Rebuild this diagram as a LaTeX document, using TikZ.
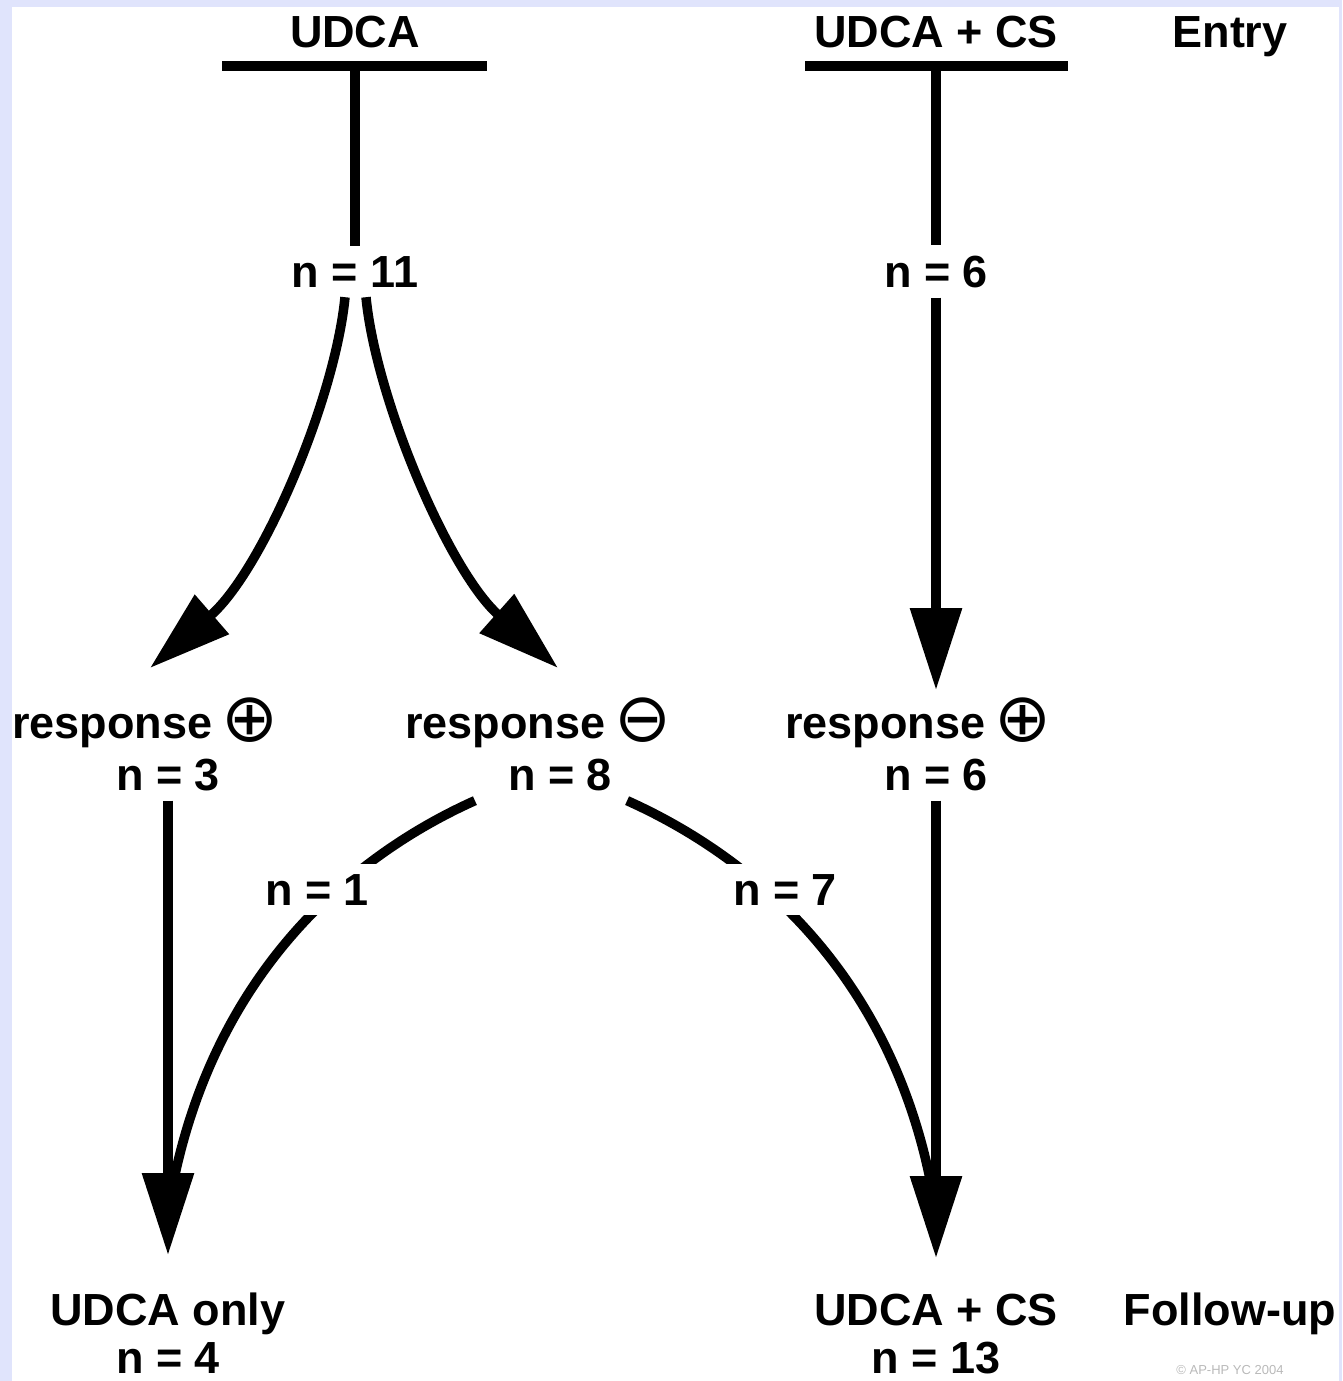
\documentclass[tikz,border=0pt]{standalone}
\usepackage{fontspec}
\setmainfont{Liberation Sans}
\newfontfamily\dejavu{DejaVu Sans}
\usetikzlibrary{arrows.meta}
\definecolor{lav}{RGB}{224,228,252}
\newcommand\circsym[1]{{\dejavu\mdseries\fontsize{68}{68}\selectfont\raisebox{-3pt}{#1}}}
\begin{document}
\begin{tikzpicture}[x=1pt,y=-1pt,
  lbl/.style={font=\fontsize{45}{54}\selectfont\bfseries, inner sep=0pt, anchor=base},
  nlbl/.style={lbl, inner ysep=10pt},
  cl/.style={lbl, inner ysep=10pt, inner xsep=15pt, fill=white},
  ln/.style={line width=9.5pt},
  arr/.style={ln, -{Triangle[length=82pt,width=50pt]}},
]
\useasboundingbox (0,0) rectangle (1342,1381);
\fill[lav] (0,0) rectangle (1342,7);
\fill[lav] (0,0) rectangle (12,1381);
\fill[lav] (1339,0) rectangle (1342,1381);

% top labels
\node[lbl] (udca) at (355,48) {UDCA};
\node[lbl] (udcacs) at (936,48) {UDCA + CS};
\node[lbl] (entry) at (1230,48) {Entry};

% bars
\coordinate (bar1) at (355,66);
\coordinate (bar2) at (936,66);
\draw[ln] (222,66) -- (487,66);
\draw[ln] (805,66) -- (1068,66);

% n labels
\node[nlbl] (n11) at (355,287) {n = 11};
\node[nlbl] (n6a) at (936,287) {n = 6};

% responses
\node[lbl, anchor=base west] (r1) at (12,738) {response\hspace{9pt}\circsym{⊕}};
\node[lbl, anchor=base west] (r2) at (405,738) {response\hspace{9pt}\circsym{⊖}};
\node[lbl, anchor=base west] (r3) at (785,738) {response\hspace{9pt}\circsym{⊕}};
\node[nlbl] (n3) at (168,790) {n = 3};
\node[nlbl] (n8) at (560,790) {n = 8};
\node[nlbl] (n6b) at (936,790) {n = 6};

% bottom
\node[lbl] (only) at (168,1325) {UDCA only};
\node[lbl] (n4) at (168,1373) {n = 4};
\node[lbl] (ucs) at (936,1325) {UDCA + CS};
\node[lbl] (n13) at (936,1373) {n = 13};
\node[lbl] (fu) at (1230,1325) {Follow-up};
\node[font=\fontsize{13}{15}\selectfont, text=gray!55] (copy) at (1230,1370) {© AP-HP YC 2004};

% arrow end points
\coordinate (tA) at (150,668);
\coordinate (tB) at (558,668);
\coordinate (tC) at (936,690);
\coordinate (tD) at (168,1255);
\coordinate (tE) at (936,1258);
\coordinate (mD) at (170,1200);
\coordinate (mE) at (934,1200);

% connectors
\draw[ln] (bar1) -- (bar1 |- n11.north);
\draw[ln] (bar2) -- (bar2 |- n6a.north);
\draw[arr] (n6a.south) -- (tC);
\draw[arr] ([xshift=-10]n11.south) .. controls (335,400) and (262,571) .. (tA);
\draw[arr] ([xshift=11]n11.south) .. controls (376,400) and (449,571) .. (tB);
\draw[arr] (n3.south) -- (tD);
\draw[arr] (n6b.south) -- (tE);
\draw[ln] ([xshift=-33]n8.south west) .. controls (387,840) and (215,945) .. (mD);
\draw[ln] ([xshift=15]n8.south east) .. controls (715,840) and (890,945) .. (mE);

\node[cl] (n1) at (317,905) {n = 1};
\node[cl] (n7) at (785,905) {n = 7};
\end{tikzpicture}
\end{document}
